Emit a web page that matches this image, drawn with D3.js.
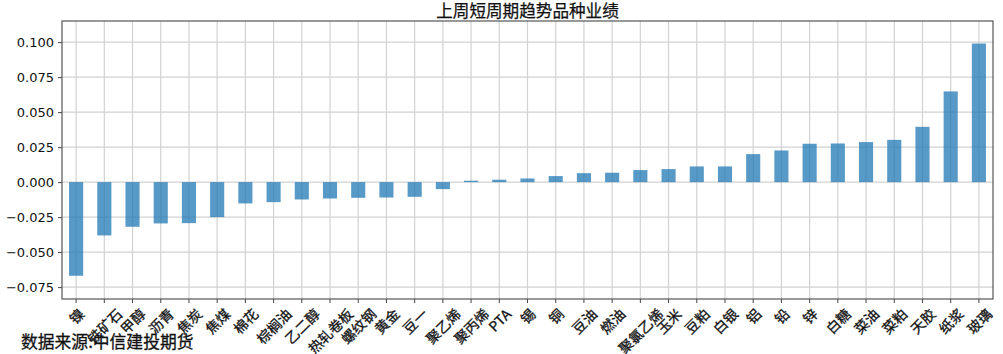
<!DOCTYPE html>
<html>
<head>
<meta charset="utf-8">
<script src="https://cdn.jsdelivr.net/npm/d3@7"></script>
<style>
  body { margin: 0; background: #fff; }
  svg { display: block; }
</style>
</head>
<body>
<svg id="chart" width="1003" height="354"></svg>
<script>
const categories = ["镍", "铁矿石", "甲醇", "沥青", "焦炭", "焦煤", "棉花", "棕榈油", "乙二醇", "热轧卷板",
  "螺纹钢", "黄金", "豆一", "聚乙烯", "聚丙烯", "PTA", "锡", "铜", "豆油", "燃油", "聚氯乙烯", "玉米",
  "豆粕", "白银", "铝", "铅", "锌", "白糖", "菜油", "菜粕", "天胶", "纸浆", "玻璃"];
const values = [-0.0669, -0.0381, -0.0319, -0.0295, -0.0293, -0.0250, -0.0152, -0.0143, -0.0124, -0.0117,
  -0.0112, -0.0110, -0.0105, -0.0050, 0.0010, 0.0017, 0.0026, 0.0043, 0.0064, 0.0067, 0.0086, 0.0093,
  0.0112, 0.0112, 0.0200, 0.0226, 0.0274, 0.0276, 0.0286, 0.0302, 0.0395, 0.0648, 0.0990];
const yTicks = [-0.075, -0.050, -0.025, 0.000, 0.025, 0.050, 0.075, 0.100];
const yDomain = [-0.0835, 0.1151];
const title = "上周短周期趋势品种业绩";
const source = "数据来源:中信建投期货";

const width = 1003, height = 354;
const margin = { top: 21, right: 10, bottom: 55, left: 62 };
const cjk = "'Noto Sans CJK SC', 'Noto Sans', sans-serif";

const svg = d3.select("#chart");

const x = d3.scaleBand()
  .domain(categories)
  .range([margin.left, width - margin.right])
  .paddingInner(0)
  .paddingOuter(0);

const y = d3.scaleLinear()
  .domain(yDomain)
  .range([height - margin.bottom, margin.top]);

// grid first, bars are see-through on top of it
const grid = svg.append("g");
grid.selectAll("line.v")
  .data(categories)
  .join("line")
  .attr("x1", d => x(d) + x.bandwidth() / 2)
  .attr("x2", d => x(d) + x.bandwidth() / 2)
  .attr("y1", margin.top)
  .attr("y2", height - margin.bottom)
  .attr("stroke", "#d2d2d2")
  .attr("stroke-width", 1.2);
grid.selectAll("line.h")
  .data(yTicks)
  .join("line")
  .attr("x1", margin.left)
  .attr("x2", width - margin.right)
  .attr("y1", d => y(d))
  .attr("y2", d => y(d))
  .attr("stroke", "#d2d2d2")
  .attr("stroke-width", 1.2);

const barW = x.bandwidth() * 0.5;
svg.append("g")
  .selectAll("rect")
  .data(categories.map((c, i) => ({ c, v: values[i] })))
  .join("rect")
  .attr("x", d => x(d.c) + (x.bandwidth() - barW) / 2)
  .attr("width", barW)
  .attr("y", d => y(Math.max(0, d.v)))
  .attr("height", d => Math.abs(y(d.v) - y(0)))
  .attr("fill", "#1f77b4")
  .attr("fill-opacity", 0.75);

// y axis
const yAxis = svg.append("g")
  .attr("transform", `translate(${margin.left},0)`)
  .call(d3.axisLeft(y).tickValues(yTicks).tickFormat(d3.format(".3f")).tickSizeOuter(0).tickSize(4).tickPadding(4));
yAxis.selectAll("text")
  .attr("font-family", "'DejaVu Sans', sans-serif")
  .attr("font-size", 13)
  .attr("fill", "#111");

// x axis
const xAxis = svg.append("g")
  .attr("transform", `translate(0,${height - margin.bottom})`)
  .call(d3.axisBottom(x).tickSizeOuter(0).tickSize(4).tickFormat(""));
xAxis.selectAll("text").remove();

[yAxis, xAxis].forEach(a => {
  a.select(".domain").remove();
  a.selectAll(".tick line").attr("stroke", "#444");
});

// frame
svg.append("rect")
  .attr("x", margin.left)
  .attr("y", margin.top)
  .attr("width", width - margin.left - margin.right)
  .attr("height", height - margin.top - margin.bottom)
  .attr("fill", "none")
  .attr("stroke", "#555")
  .attr("stroke-width", 1.2);

// rotated category labels, bbox centred under the tick
const fs = 14;
const labels = svg.append("g");
categories.forEach(c => {
  const t = labels.append("text")
    .text(c)
    .attr("font-family", cjk)
    .attr("font-size", fs)
    .attr("fill", "#111")
    .attr("stroke", "#111")
    .attr("stroke-width", 0.3)
    .attr("text-anchor", "middle")
    .attr("dominant-baseline", "central");
  const L = t.node().getComputedTextLength();
  const half = (L + fs) * Math.SQRT1_2 / 2;
  const cx = x(c) + x.bandwidth() / 2;
  const cy = height - margin.bottom + 7 + half;
  t.attr("transform", `translate(${cx},${cy}) rotate(-45)`);
});

svg.append("text")
  .attr("x", (margin.left + width - margin.right) / 2)
  .attr("y", 17)
  .attr("text-anchor", "middle")
  .attr("font-family", cjk)
  .attr("font-size", 16.6)
  .attr("fill", "#111")
  .attr("stroke", "#111")
  .attr("stroke-width", 0.25)
  .text(title);

svg.append("text")
  .attr("x", 21)
  .attr("y", 348)
  .attr("font-family", cjk)
  .attr("font-size", 16.8)
  .attr("fill", "#111")
  .attr("stroke", "#111")
  .attr("stroke-width", 0.3)
  .text(source);
</script>
</body>
</html>
